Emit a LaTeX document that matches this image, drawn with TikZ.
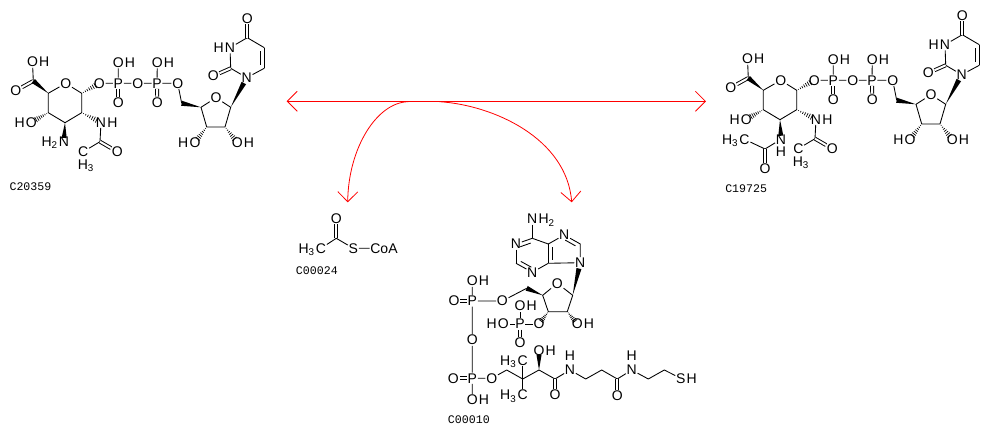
\documentclass[tikz,border=0pt]{standalone}
\usepackage{fontspec}
\setmainfont{Liberation Sans}
\setmonofont{Liberation Mono}
\usetikzlibrary{positioning,calc,arrows.meta}

\newcommand{\solidbond}[3][1]{\fill ($(#2)!#1!(#3)!1.9pt!90:(#2)$) -- (#2) -- ($(#2)!#1!(#3)!1.9pt!-90:(#2)$) -- cycle;}
\newcommand{\hashbond}[3][1]{\foreach \t in {.12,.26,...,.96} \draw[line width=.5pt] ($(#2)!{\t*#1}!(#3)!{\t*2.2pt}!90:(#2)$) -- ($(#2)!{\t*#1}!(#3)!{\t*2.2pt}!-90:(#2)$);}
\newcommand{\ringdbl}[2]{\draw[bond] (#1) -- (#2); \draw[bond] ($(#1)!.18!(#2)!3pt!90:(#2)$) -- ($(#2)!.18!(#1)!3pt!-90:(#1)$);}

\tikzset{
	atom/.style={inner sep=.6pt,outer sep=0pt,font=\fontsize{10.5}{12}\selectfont},
	hatom/.style={atom,node distance=-.3pt},
	bond/.style={line width=.65pt},
	dbl/.style={line width=.7pt,double,double distance=1.5pt},
	tag/.style={anchor=west,inner sep=0pt,font=\fontsize{8.7}{10}\ttfamily},
	udpcore/.pic={
		\coordinate (cc) at (33.3,81);
		\coordinate (c5) at (48.3,93.3);
		\coordinate (c1) at (81.7,93.3);
		\coordinate (c2) at (81.7,112.7);
		\coordinate (c3) at (65,122.7);
		\coordinate (c4) at (48.3,112.7);
		\coordinate (ac) at (100,141.7);
		\coordinate (r5) at (181.7,103.3);
		\coordinate (r4) at (201,107.3);
		\coordinate (r1) at (230.7,107.3);
		\coordinate (r2) at (225,127);
		\coordinate (r3) at (206.7,127);
		\coordinate (u2) at (230.7,68.3);
		\coordinate (u4) at (247.3,37.7);
		\coordinate (u5) at (264.3,47.7);
		\coordinate (u6) at (264.3,68.3);
		\node[atom] (oa) at (32.5,62) {O};
		\node[hatom,base right=of oa] (oaH) {H};
		\node[atom] (ob) at (15.7,90.7) {O};
		\node[atom] (o5) at (65.7,83.3) {O};
		\node[atom] (o4) at (31.3,122.3) {O};
		\node[hatom,base left=of o4] (o4H) {H};
		\node[atom] (n2) at (101,122.3) {N};
		\node[hatom,base right=of n2] (n2H) {H};
		\node[atom] (ao) at (117.3,151.7) {O};
		\node[atom] (am) at (83.3,151.7) {C};
		\node[hatom,below=1.2pt of am,xshift=2pt] (amH) {H\textsubscript{3}};
		\node[atom] (o1) at (99.3,83.3) {O};
		\node[atom] (pa) at (118.3,83.3) {P};
		\node[atom] (pah) at (118.3,62.7) {O};
		\node[hatom,base right=of pah] (pahH) {H};
		\node[atom] (pao) at (118.3,102.3) {O};
		\node[atom] (ox) at (137.7,83.3) {O};
		\node[atom] (pb) at (157,83.3) {P};
		\node[atom] (pbh) at (157.3,62.7) {O};
		\node[hatom,base right=of pbh] (pbhH) {H};
		\node[atom] (pbo) at (157.3,102.3) {O};
		\node[atom] (oy) at (177.7,83.3) {O};
		\node[atom] (ro) at (216,97.7) {O};
		\node[atom] (r3o) at (195,142.3) {O};
		\node[hatom,base left=of r3o] (r3oH) {H};
		\node[atom] (r2o) at (237.3,142.3) {O};
		\node[hatom,base right=of r2o] (r2oH) {H};
		\node[atom] (n1) at (246.7,77.7) {N};
		\node[atom] (u2o) at (213.3,76) {O};
		\node[atom] (n3) at (230,47.7) {N};
		\node[hatom,base left=of n3] (n3H) {H};
		\node[atom] (u4o) at (247.3,18.3) {O};
		\draw[bond] (oa) -- (cc);
		\draw[dbl] (cc) -- (ob);
		\draw[bond] (c5) -- (o5) -- (c1) -- (c2) -- (c3) -- (c4) -- (c5);
		\solidbond{c5}{cc}
		\hashbond[.75]{c4}{o4}
		\hashbond[.8]{c2}{n2}
		\hashbond[.8]{c1}{o1}
		\draw[bond] (n2) -- (ac) -- (am);
		\draw[dbl] (ac) -- (ao);
		\draw[bond] (o1) -- (pa) -- (ox) -- (pb) -- (oy) -- (r5);
		\draw[bond] (pa) -- (pah) (pb) -- (pbh);
		\draw[dbl] (pa) -- (pao);
		\draw[dbl] (pb) -- (pbo);
		\solidbond{r4}{r5}
		\draw[bond] (r4) -- (ro) -- (r1) -- (r2) -- (r3) -- (r4);
		\solidbond[.82]{r1}{n1}
		\hashbond[.8]{r3}{r3o}
		\hashbond[.8]{r2}{r2o}
		\draw[bond] (n1) -- (u2) -- (n3) -- (u4) -- (u5);
		\draw[bond] (u6) -- (n1);
		\draw[dbl] (u2) -- (u2o);
		\draw[dbl] (u4) -- (u4o);
		\ringdbl{u6}{u5}
	}
}

\begin{document}
\begin{tikzpicture}[x=.75pt,y=-.75pt]
	\useasboundingbox (0,0) rectangle (990,434);

	\pic (L) at (0,0) {udpcore};
	\node[atom] (Ln3) at (64,141.3) {N};
	\node[hatom,base left=of Ln3] (Ln3H) {H\textsubscript{2}};
	\solidbond[.82]{Lc3}{Ln3}
	\node[tag] (C20359) at (9.3,186.7) {C20359};

	\pic (R) at (715,-3) {udpcore};
	\node[atom] (Rn3) at (781,139.3) {N};
	\node[hatom,below=.6pt of Rn3] (Rn3H) {H};
	\coordinate (Rac) at (765,149);
	\node[atom] (Rao) at (765,168.3) {O};
	\node[atom] (Ram) at (744.5,139.3) {C};
	\node[hatom,base left=of Ram] (RamH) {H\textsubscript{3}};
	\solidbond[.82]{Rc3}{Rn3}
	\draw[bond] (Rn3) -- (Rac) -- (Ram);
	\draw[dbl] (Rac) -- (Rao);
	\node[tag] (C19725) at (725,188.3) {C19725};

	\node[atom] (Ao) at (336.3,218.3) {O};
	\coordinate (Ac) at (336.3,238.3);
	\node[atom] (Am) at (321,248.3) {C};
	\node[hatom,base left=of Am] (AmH) {H\textsubscript{3}};
	\node[atom] (As) at (353.3,248.3) {S};
	\node[atom] (Acoa) at (384,248.3) {CoA};
	\draw[dbl] (Ac) -- (Ao);
	\draw[bond] (Am) -- (Ac) -- (As) -- (Acoa);
	\node[tag] (C00024) at (295.7,271) {C00024};

	\node[atom] (Bn6) at (532.3,219) {N};
	\node[hatom,base right=of Bn6] (Bn6H) {H\textsubscript{2}};
	\coordinate (Bc6) at (532.3,238.3);
	\node[atom] (Bn1) at (516,244) {N};
	\coordinate (Bc2) at (516,263.3);
	\node[atom] (Bn3) at (532.3,272.3) {N};
	\coordinate (Bc4) at (548.3,263.3);
	\coordinate (Bc5) at (548.3,244);
	\node[atom] (Bn7) at (564.3,235) {N};
	\coordinate (Bc8) at (580.3,244);
	\node[atom] (Bn9) at (580.3,262.7) {N};
	\coordinate (Br1) at (572.7,295.3);
	\node[atom] (Bro) at (557.3,283.3) {O};
	\coordinate (Br4) at (542.7,295.3);
	\coordinate (Br3) at (548.3,311.7);
	\coordinate (Br2) at (567.3,311.7);
	\node[atom] (Br2o) at (577.3,324) {O};
	\node[hatom,base right=of Br2o] (Br2oH) {H};
	\coordinate (Br5) at (526.7,288.3);
	\node[atom] (Boy) at (502.3,301) {O};
	\node[atom] (Bpa) at (472.3,301) {P};
	\node[atom] (Bpao) at (454,301) {O};
	\node[atom] (Bpah) at (472.3,281) {O};
	\node[hatom,base right=of Bpah] (BpahH) {H};
	\node[atom] (Box) at (472.3,340) {O};
	\node[atom] (Bpb) at (472.3,378.3) {P};
	\node[atom] (Bpbo) at (453.3,378.3) {O};
	\node[atom] (Bpbh) at (472.3,400) {O};
	\node[hatom,base right=of Bpbh] (BpbhH) {H};
	\node[atom] (Boz) at (491.7,378.3) {O};
	\coordinate (Bch) at (506.7,370);
	\coordinate (Bcq) at (522.7,379);
	\node[atom] (Bma) at (522.7,360.3) {C};
	\node[hatom,base left=of Bma] (BmaH) {H\textsubscript{3}};
	\node[atom] (Bmb) at (522.7,395) {C};
	\node[hatom,base left=of Bmb] (BmbH) {H\textsubscript{3}};
	\coordinate (Bcho) at (539,370);
	\node[atom] (Bchoh) at (539,351) {O};
	\node[hatom,base right=of Bchoh] (BchohH) {H};
	\coordinate (Bco) at (555,379);
	\node[atom] (Bcoo) at (555,395) {O};
	\node[atom] (Bna) at (570,370) {N};
	\node[hatom,above=2.4pt of Bna] (BnaH) {H};
	\coordinate (Bd) at (585.7,379);
	\coordinate (Be) at (601.7,370);
	\coordinate (Bf) at (617.3,379);
	\node[atom] (Bfo) at (617.3,395.7) {O};
	\node[atom] (Bnb) at (631.7,370) {N};
	\node[hatom,above=2.4pt of Bnb] (BnbH) {H};
	\coordinate (Bg) at (648.3,379);
	\coordinate (Bi) at (664.3,370);
	\node[atom] (Bs) at (680.7,378.3) {S};
	\node[hatom,base right=of Bs] (BsH) {H};
	\node[atom] (Bq) at (539,324) {O};
	\node[atom] (Bpc) at (520,324) {P};
	\node[atom] (Bpch) at (520,306) {O};
	\node[hatom,base right=of Bpch] (BpchH) {H};
	\node[atom] (Bpcl) at (503.3,324) {O};
	\node[hatom,base left=of Bpcl] (BpclH) {H};
	\node[atom] (Bpco) at (520,342.3) {O};

	\draw[bond] (Bn6) -- (Bc6);
	\ringdbl{Bc6}{Bn1}
	\draw[bond] (Bn1) -- (Bc2);
	\ringdbl{Bc2}{Bn3}
	\draw[bond] (Bn3) -- (Bc4);
	\ringdbl{Bc5}{Bc4}
	\draw[bond] (Bc5) -- (Bc6) (Bc5) -- (Bn7);
	\ringdbl{Bc8}{Bn7}
	\draw[bond] (Bc8) -- (Bn9) -- (Bc4);
	\solidbond[.82]{Br1}{Bn9}
	\draw[bond] (Br1) -- (Bro) -- (Br4) -- (Br3) -- (Br2) -- (Br1);
	\solidbond{Br4}{Br5}
	\hashbond[.8]{Br2}{Br2o}
	\hashbond[.8]{Br3}{Bq}
	\draw[bond] (Br5) -- (Boy) -- (Bpa) -- (Box) -- (Bpb) -- (Bpbh);
	\draw[bond] (Bpa) -- (Bpah) (Bpb) -- (Boz) -- (Bch) -- (Bcq) -- (Bcho) -- (Bco) -- (Bna) -- (Bd) -- (Be) -- (Bf) -- (Bnb) -- (Bg) -- (Bi) -- (Bs);
	\draw[dbl] (Bpa) -- (Bpao);
	\draw[dbl] (Bpb) -- (Bpbo);
	\draw[dbl] (Bco) -- (Bcoo);
	\draw[dbl] (Bf) -- (Bfo);
	\draw[bond] (Bcq) -- (Bma) (Bcq) -- (Bmb);
	\solidbond[.8]{Bcho}{Bchoh}
	\draw[bond] (Bq) -- (Bpc) -- (Bpcl) (Bpc) -- (Bpch);
	\draw[dbl] (Bpc) -- (Bpco);
	\node[tag] (C00010) at (447.7,420) {C00010};

	\coordinate (rxnL) at (286.7,101.3);
	\coordinate (rxnR) at (706,101.3);
	\coordinate (offL) at (408.3,101.7);
	\coordinate (offR) at (439.3,101.7);
	\coordinate (toC00024) at (347.7,202.3);
	\coordinate (toC00010) at (571.7,202.3);
	\draw[red,line width=.6pt,{Straight Barb[length=7.5pt,width=15pt]}-{Straight Barb[length=7.5pt,width=15pt]}] (rxnL) -- (rxnR);
	\draw[red,line width=.6pt,-{Straight Barb[length=7.5pt,width=15pt]}] (offL) .. controls (376.7,102.3) and (348.3,148.3) .. (toC00024);
	\draw[red,line width=.6pt,-{Straight Barb[length=7.5pt,width=15pt]}] (offR) .. controls (493.3,105) and (566.7,138.3) .. (toC00010);
\end{tikzpicture}
\end{document}
